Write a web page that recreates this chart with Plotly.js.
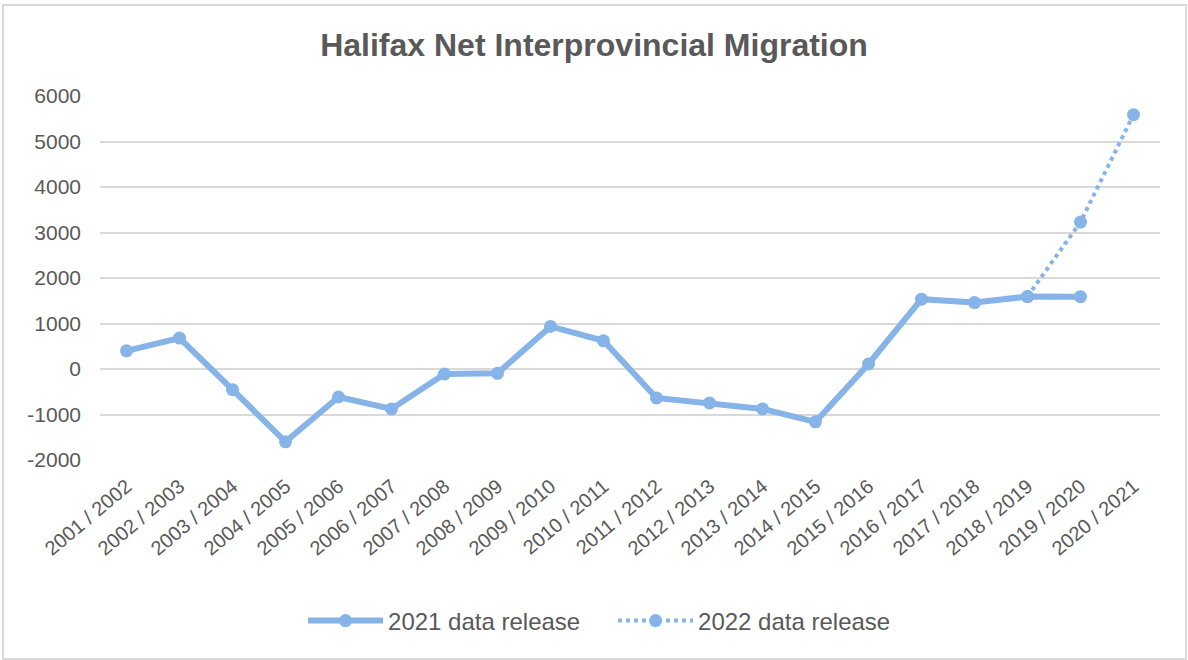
<!DOCTYPE html>
<html>
<head>
<meta charset="utf-8">
<script src="https://cdn.plot.ly/plotly-3.0.1.min.js"></script>
<style>
  html, body { margin: 0; padding: 0; background: #ffffff; }
  #wrap { position: relative; width: 1188px; height: 660px; }
  #chart { position: absolute; left: 0; top: 0; width: 1188px; height: 660px; }
  #frame { position: absolute; left: 2px; top: 4px; width: 1181px; height: 652px;
           border: 2px solid #d9d9d9; pointer-events: none; }
</style>
</head>
<body>
<div id="wrap">
  <div id="chart"></div>
  <div id="frame"></div>
</div>
<script>
const categories = [
  "2001 / 2002", "2002 / 2003", "2003 / 2004", "2004 / 2005", "2005 / 2006",
  "2006 / 2007", "2007 / 2008", "2008 / 2009", "2009 / 2010", "2010 / 2011",
  "2011 / 2012", "2012 / 2013", "2013 / 2014", "2014 / 2015", "2015 / 2016",
  "2016 / 2017", "2017 / 2018", "2018 / 2019", "2019 / 2020", "2020 / 2021"
];
const release2021 = [400, 680, -455, -1600, -615, -877, -110, -95, 935, 620,
                     -636, -746, -877, -1162, 110, 1535, 1460, 1592, 1590, null];
const release2022 = [null, null, null, null, null, null, null, null, null, null,
                     null, null, null, null, null, null, null, 1592, 3230, 5590];
const yTicks = [-2000, -1000, 0, 1000, 2000, 3000, 4000, 5000, 6000];

const lineColor = "#86B4E8";
const textColor = "#595959";
const fontFamily = "Liberation Sans, Arial, sans-serif";

const traces = [
  {
    x: categories, y: release2021, type: "scatter", mode: "lines+markers",
    name: "2021 data release",
    line: { color: lineColor, width: 6 },
    marker: { color: lineColor, size: 13 },
    connectgaps: false
  },
  {
    x: categories, y: release2022, type: "scatter", mode: "lines+markers",
    name: "2022 data release",
    line: { color: lineColor, width: 4, dash: "dot" },
    marker: { color: lineColor, size: 13 },
    connectgaps: false
  }
];

const layout = {
  width: 1188, height: 660,
  paper_bgcolor: "#ffffff", plot_bgcolor: "#ffffff",
  margin: { l: 100, r: 28, t: 96, b: 200 },
  font: { family: fontFamily, color: textColor, size: 20 },
  title: {
    text: "<b>Halifax Net Interprovincial Migration</b>",
    font: { family: fontFamily, size: 32, color: textColor },
    x: 0.5, xanchor: "center", xref: "container",
    y: 1 - 45 / 660, yanchor: "middle", yref: "container"
  },
  xaxis: {
    type: "category",
    categoryorder: "array", categoryarray: categories,
    range: [-0.5, 19.5], autorange: false,
    tickangle: -40,
    tickfont: { family: fontFamily, size: 20, color: textColor },
    showgrid: false, zeroline: false, showline: false,
    ticks: "", ticklen: 0,
    ticklabelstandoff: 10
  },
  yaxis: {
    range: [-2000, 6000], autorange: false,
    tickvals: yTicks, ticktext: yTicks.map(String),
    tickfont: { family: fontFamily, size: 21, color: textColor },
    showgrid: true, gridcolor: "#d9d9d9", gridwidth: 2,
    zeroline: false, showline: false, ticks: "",
    ticklabelstandoff: 18
  },
  showlegend: true,
  legend: {
    orientation: "h", x: 0.484, xanchor: "center",
    y: (460 - 621) / 364, yanchor: "middle", yref: "paper",
    font: { family: fontFamily, size: 24, color: textColor },
    itemwidth: 75, entrywidth: 220, entrywidthmode: "pixels",
    traceorder: "normal",
    bgcolor: "rgba(0,0,0,0)"
  }
};

Plotly.newPlot("chart", traces, layout, { displayModeBar: false, staticPlot: true });
</script>
</body>
</html>
